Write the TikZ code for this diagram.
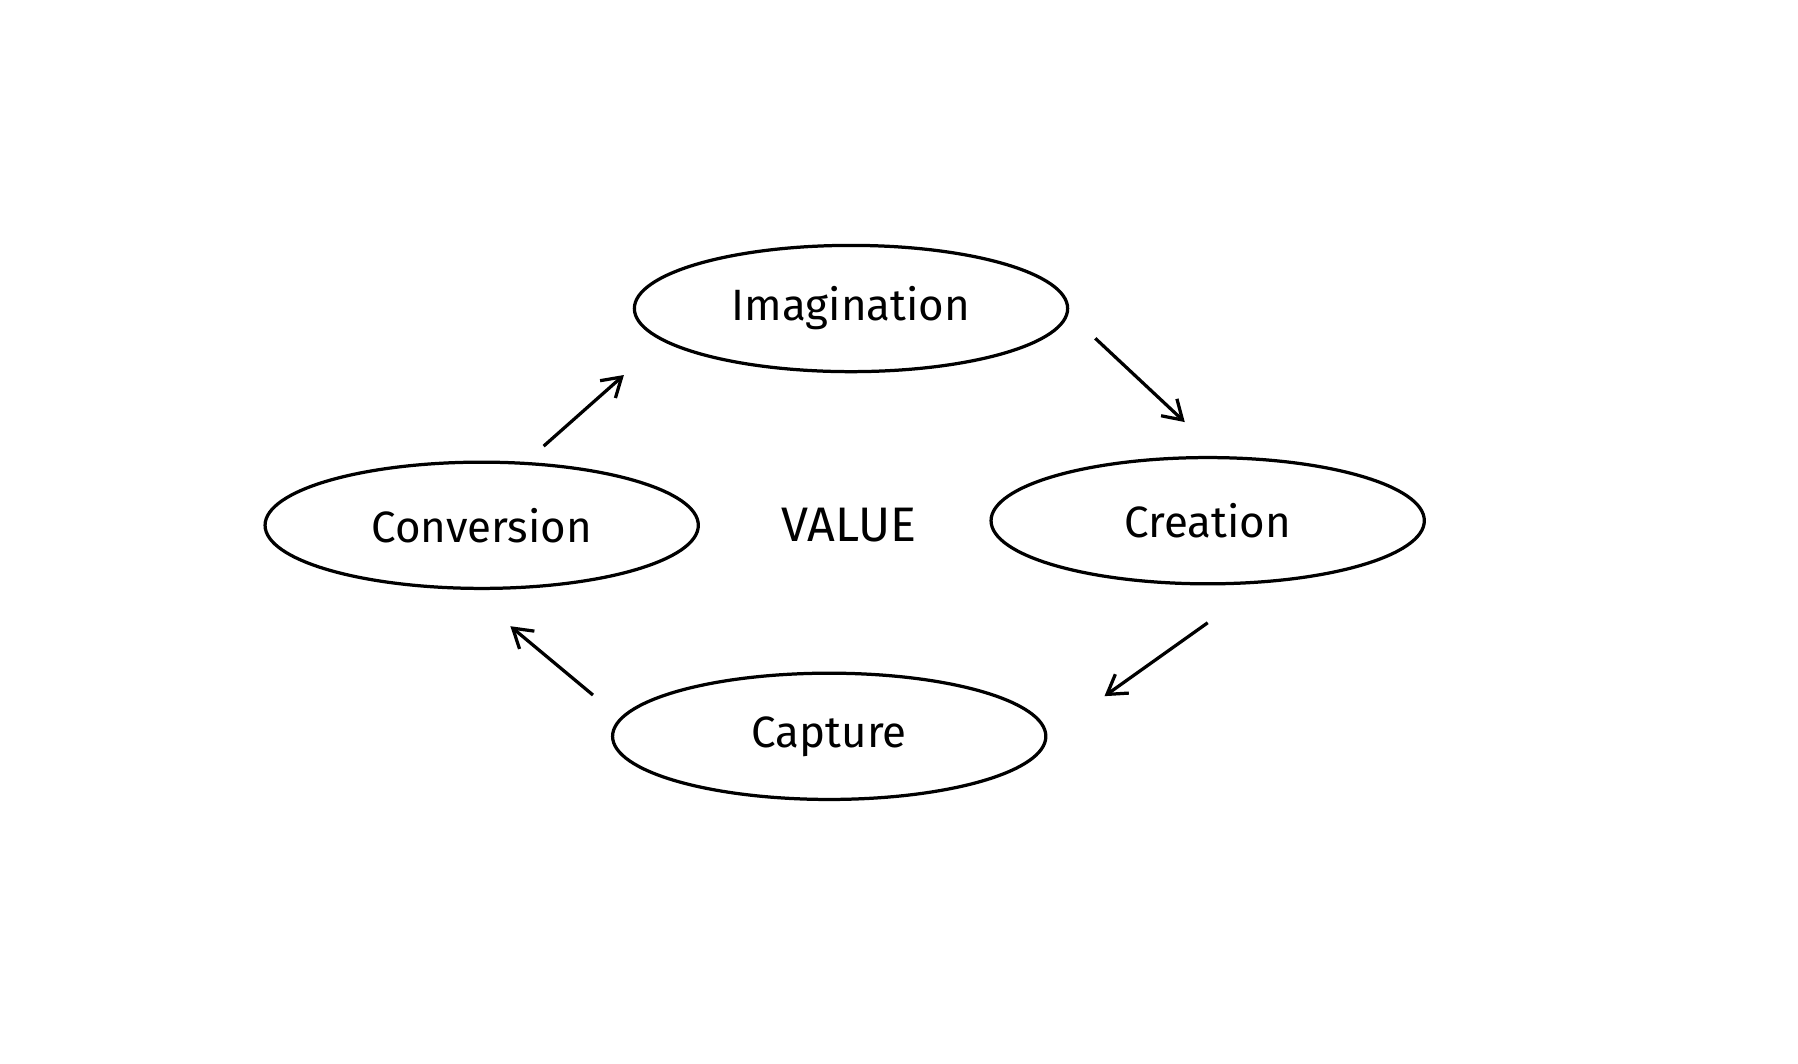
\documentclass[tikz,border=0pt]{standalone}
\usepackage{fontspec}
\setmainfont{Fira Sans}
\usetikzlibrary{arrows.meta,shapes.geometric}

\begin{document}
\begin{tikzpicture}[x=0.99bp,y=-0.99bp,
    stage/.style={draw,ellipse,line width=2.8bp,minimum width=374bp,minimum height=109bp,
      font=\fontsize{38}{44}\selectfont},
    flow/.style={line width=2.8bp,-{Straight Barb[length=16bp,width=20bp]}}]
    \useasboundingbox (0,0) rectangle (1567.7,927.7);
    \node[stage] (imag) at (742,269) {Imagination};
    \node[stage] (crea) at (1053,454) {Creation};
    \node[stage] (conv) at (420,458) {Conversion};
    \node[stage] (capt) at (723,642) {Capture};
    \node[font=\fontsize{42}{48}\selectfont] (value) at (740,458) {VALUE};
    \coordinate (a1) at (955,295); \coordinate (b1) at (1033,368);
    \coordinate (a2) at (1053,543); \coordinate (b2) at (963,607);
    \coordinate (a3) at (517,606); \coordinate (b3) at (445,546);
    \coordinate (a4) at (474,389); \coordinate (b4) at (544,327);
    \draw[flow] (a1) -- (b1);
    \draw[flow] (a2) -- (b2);
    \draw[flow] (a3) -- (b3);
    \draw[flow] (a4) -- (b4);
  \end{tikzpicture}
\end{document}
